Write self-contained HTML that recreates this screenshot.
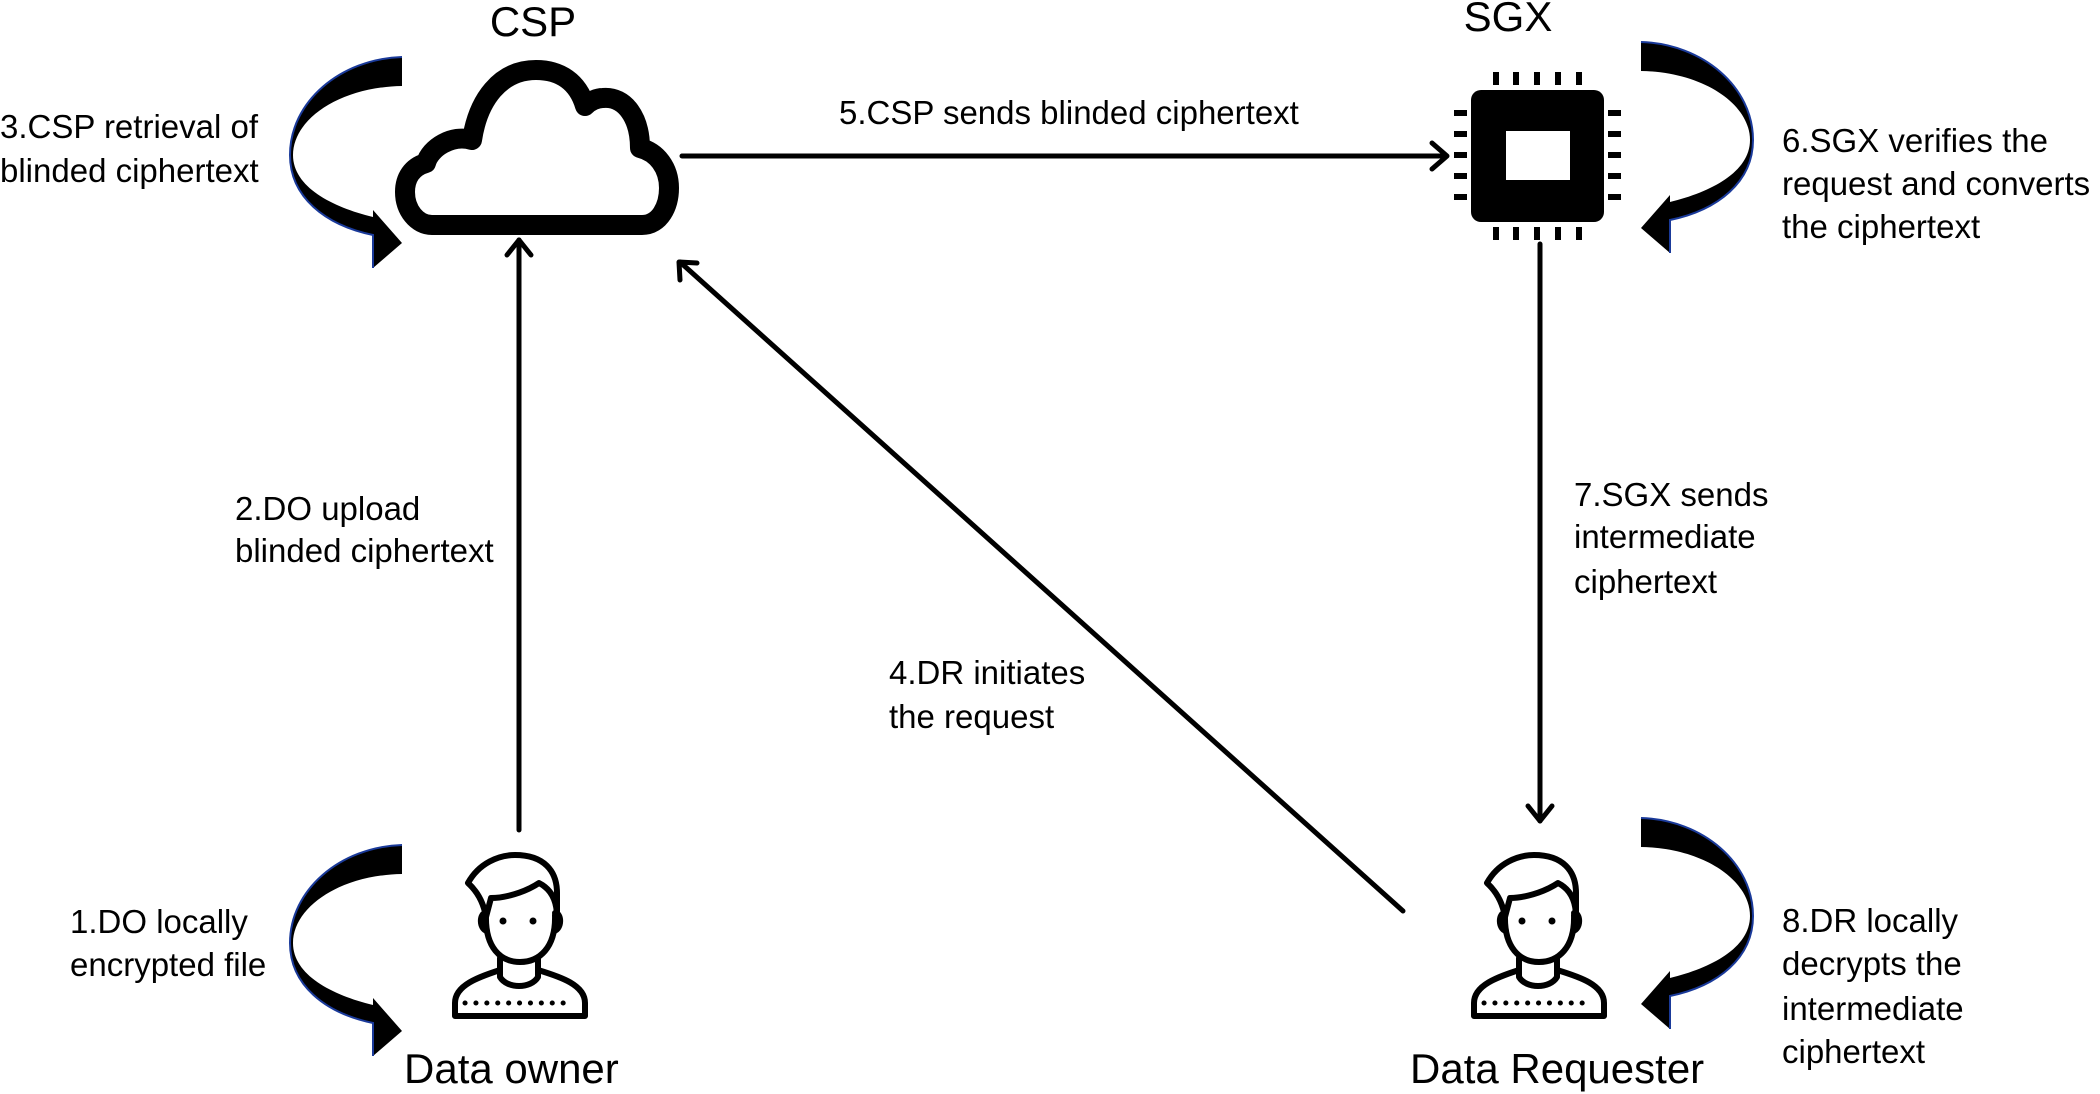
<!DOCTYPE html>
<html><head><meta charset="utf-8"><style>
html,body{margin:0;padding:0;background:#fff;}
svg{display:block;}
text{font-family:"Liberation Sans",sans-serif;fill:#000;}
.t{font-size:33px;}
.h{font-size:42px;}
</style></head><body>
<svg width="2100" height="1094" viewBox="0 0 2100 1094" xmlns="http://www.w3.org/2000/svg">
<defs>
<g id="curv">
<path d="M112,0 C50,2 0,45 0,98 C0,140 35,168 83,178 L83,211 L112,186 L83,153 L83,160 C42,150 3,130 3,98 C3,62 50,30 112,29 Z" fill="#000"/>
<path d="M112,0 C50,2 0,45 0,98 C0,140 35,168 83,178 L83,211" fill="none" stroke="#1a3a9a" stroke-width="2"/>
</g>
<g id="person" fill="none" stroke="#000" stroke-width="6" stroke-linejoin="round" stroke-linecap="round">
<path d="M-33,62 C-34,95 -18,109 1,109 C20,109 37,95 36,62"/>
<path d="M-51,30 C-40,10 -20,2 -4,2 C25,2 38,18 38,40 L38,64 C38,45 30,35 20,30 C5,40 -15,45 -28,45 L-33,64 C-35,52 -40,40 -51,30 Z"/>
<path d="M-33,60 C-40,60 -40,76 -32,78 M36,60 C43,60 43,76 35,78"/>
<path d="M-19,105 L-19,124 C-12,136 12,136 19,124 L19,105"/>
<path d="M-19,117 C-40,124 -64,132 -64,150 L-64,163 L66,163 L66,150 C66,132 42,124 19,117"/>
<line x1="-54" y1="150" x2="54" y2="150" stroke-width="5" stroke-dasharray="0.1 10.8"/>
<circle cx="-16" cy="68" r="3.5" fill="#000" stroke="none"/>
<circle cx="14" cy="68" r="3.5" fill="#000" stroke="none"/>
</g>
</defs>

<text x="533" y="36" class="h" text-anchor="middle">CSP</text>
<text x="1508" y="31" class="h" text-anchor="middle">SGX</text>

<path d="M432,225 H642 C660,225 669,206 669,188 C669,168 657,152 640,148 C640,118 625,96 603,98 C597,98 590,101 585,106 C578,82 560,70 536,70 C500,70 478,100 472,140 C452,134 430,148 426,163 C412,167 405,178 405,192 C405,210 417,225 432,225 Z" fill="none" stroke="#000" stroke-width="20" stroke-linejoin="round"/>

<rect x="1471" y="90" width="133" height="132" rx="10" fill="#000"/>
<rect x="1506" y="131" width="64" height="49" fill="#fff"/>
<g fill="#000">
<rect x="1493" y="72" width="6" height="13"/><rect x="1513" y="72" width="6" height="13"/><rect x="1534" y="72" width="6" height="13"/><rect x="1555" y="72" width="6" height="13"/><rect x="1576" y="72" width="6" height="13"/>
<rect x="1493" y="227" width="6" height="13"/><rect x="1513" y="227" width="6" height="13"/><rect x="1534" y="227" width="6" height="13"/><rect x="1555" y="227" width="6" height="13"/><rect x="1576" y="227" width="6" height="13"/>
<rect x="1454" y="110" width="13" height="6"/><rect x="1454" y="131" width="13" height="6"/><rect x="1454" y="152" width="13" height="6"/><rect x="1454" y="173" width="13" height="6"/><rect x="1454" y="194" width="13" height="6"/>
<rect x="1608" y="110" width="13" height="6"/><rect x="1608" y="131" width="13" height="6"/><rect x="1608" y="152" width="13" height="6"/><rect x="1608" y="173" width="13" height="6"/><rect x="1608" y="194" width="13" height="6"/>
</g>

<g stroke="#000" stroke-width="5" fill="none" stroke-linecap="round" stroke-linejoin="round">
<line x1="682" y1="156" x2="1446" y2="156"/><path d="M1432,143 L1447,156 L1432,169"/>
<line x1="519" y1="830" x2="519" y2="240"/><path d="M507,255 L519,240 L531,255"/>
<line x1="1403" y1="911" x2="680" y2="262"/><path d="M680,280 L679,262 L697,263"/>
<line x1="1540" y1="244" x2="1540" y2="821"/><path d="M1528,806 L1540,821 L1552,806"/>
</g>

<use href="#curv" transform="translate(290,57)"/>
<use href="#curv" transform="translate(290,845)"/>
<use href="#curv" transform="translate(1753,42) scale(-1,1)"/>
<use href="#curv" transform="translate(1753,818) scale(-1,1)"/>

<use href="#person" transform="translate(519,853)"/>
<use href="#person" transform="translate(1538,853)"/>

<text class="t" x="0" y="138">3.CSP retrieval of</text>
<text class="t" x="0" y="182">blinded ciphertext</text>
<text class="t" x="839" y="124">5.CSP sends blinded ciphertext</text>
<text class="t" x="1782" y="152">6.SGX verifies the</text>
<text class="t" x="1782" y="195">request and converts</text>
<text class="t" x="1782" y="238">the ciphertext</text>
<text class="t" x="235" y="520">2.DO upload</text>
<text class="t" x="235" y="562">blinded ciphertext</text>
<text class="t" x="889" y="684">4.DR initiates</text>
<text class="t" x="889" y="728">the request</text>
<text class="t" x="1574" y="506">7.SGX sends</text>
<text class="t" x="1574" y="548">intermediate</text>
<text class="t" x="1574" y="593">ciphertext</text>
<text class="t" x="70" y="933">1.DO locally</text>
<text class="t" x="70" y="976">encrypted file</text>
<text class="t" x="1782" y="932">8.DR locally</text>
<text class="t" x="1782" y="975">decrypts the</text>
<text class="t" x="1782" y="1020">intermediate</text>
<text class="t" x="1782" y="1063">ciphertext</text>
<text class="h" x="404" y="1083">Data owner</text>
<text class="h" x="1410" y="1083">Data Requester</text>
</svg>
</body></html>
